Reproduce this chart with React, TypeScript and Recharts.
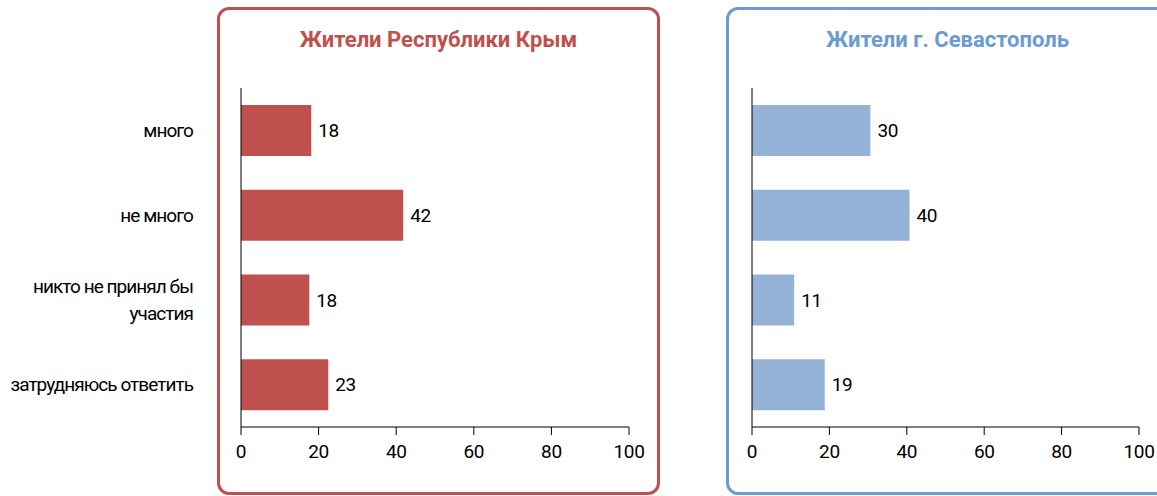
import React from "react";
import { BarChart, Bar, XAxis, YAxis, LabelList } from "recharts";

const categories = ["много", "не много", "никто не принял бы\nучастия", "затрудняюсь ответить"];
const crimeaValues = [18.1, 41.8, 17.6, 22.5];
const crimeaLabels = [18, 42, 18, 23];
const sevastopolValues = [30.6, 40.7, 10.9, 18.8];
const sevastopolLabels = [30, 40, 11, 19];
const xTicks = [0, 20, 40, 60, 80, 100];
const bandTicks = [0, 1, 2, 3, 4];

const FONT = "Roboto, 'Liberation Sans', sans-serif";
const RED = "#c0504d";
const BLUE = "#95b3d7";

const crimeaData = categories.map((c, i) => ({ name: c, value: crimeaValues[i], label: crimeaLabels[i] }));
const sevData = categories.map((c, i) => ({ name: c, value: sevastopolValues[i], label: sevastopolLabels[i] }));

const textStyle = { fontFamily: FONT, fontSize: 19, fill: "#000", letterSpacing: -0.4 };

function CategoryTick(props: any) {
  const { x, y, payload } = props;
  const lines = String(payload.value).split("\n");
  const lh = 27;
  const start = y - ((lines.length - 1) * lh) / 2;
  return (
    <text x={x} y={start} textAnchor="end" style={{ ...textStyle, letterSpacing: -0.95 }}>
      {lines.map((l, i) => (
        <tspan key={i} x={x} y={start + i * lh} dy="0.36em">
          {l}
        </tspan>
      ))}
    </text>
  );
}

function Panel({ left, color, title }: { left: number; color: string; title: string }) {
  return (
    <div
      style={{
        position: "absolute",
        left,
        top: 7,
        width: 443,
        height: 488,
        boxSizing: "border-box",
        border: `3px solid ${color}`,
        borderRadius: 12,
      }}
    >
      <div
        style={{
          position: "absolute",
          left: 0,
          right: 0,
          top: 14,
          height: 32,
          lineHeight: "32px",
          textAlign: "center",
          fontFamily: FONT,
          fontWeight: "bold",
          fontSize: 22,
          color,
        }}
      >
        {title}
      </div>
    </div>
  );
}

function Chart({
  data,
  color,
  width,
  marginLeft,
  marginRight,
  showLabels,
}: {
  data: any[];
  color: string;
  width: number;
  marginLeft: number;
  marginRight: number;
  showLabels: boolean;
}) {
  return (
    <BarChart
      width={width}
      height={470}
      data={data}
      layout="vertical"
      barCategoryGap="20%"
      margin={{ top: 88, right: marginRight, bottom: 13, left: marginLeft }}
    >
      <XAxis
        type="number"
        domain={[0, 100]}
        ticks={xTicks}
        height={30}
        tickSize={8}
        tickMargin={10}
        axisLine={{ stroke: "#000" }}
        tickLine={{ stroke: "#000" }}
        tick={textStyle}
      />
      <YAxis
        yAxisId="band"
        type="number"
        domain={[0, 4]}
        ticks={bandTicks}
        width={1}
        tickSize={7}
        tick={false}
        axisLine={{ stroke: "#000" }}
        tickLine={{ stroke: "#000" }}
        allowDataOverflow
      />
      <YAxis
        yAxisId="cat"
        type="category"
        dataKey="name"
        width={showLabels ? 240 : 0}
        hide={!showLabels}
        axisLine={false}
        tickLine={false}
        tickSize={0}
        tickMargin={47}
        interval={0}
        tick={<CategoryTick />}
      />
      <Bar yAxisId="cat" dataKey="value" fill={color} isAnimationActive={false}>
        <LabelList dataKey="label" position="right" offset={7} style={textStyle} />
      </Bar>
    </BarChart>
  );
}

export default function App() {
  return (
    <div style={{ position: "absolute", left: 0, top: 0, width: 1157, height: 496, overflow: "hidden", background: "#fff" }}>
      <Panel left={217} color="#c0504d" title="Жители Республики Крым" />
      <Panel left={726} color="#6a9bd3" title="Жители г. Севастополь" />
      <div style={{ position: "absolute", left: 0, top: 0 }}>
        <Chart data={crimeaData} color={RED} width={660} marginLeft={0} marginRight={31} showLabels />
      </div>
      <div style={{ position: "absolute", left: 700, top: 0 }}>
        <Chart data={sevData} color={BLUE} width={457} marginLeft={51} marginRight={18} showLabels={false} />
      </div>
    </div>
  );
}
